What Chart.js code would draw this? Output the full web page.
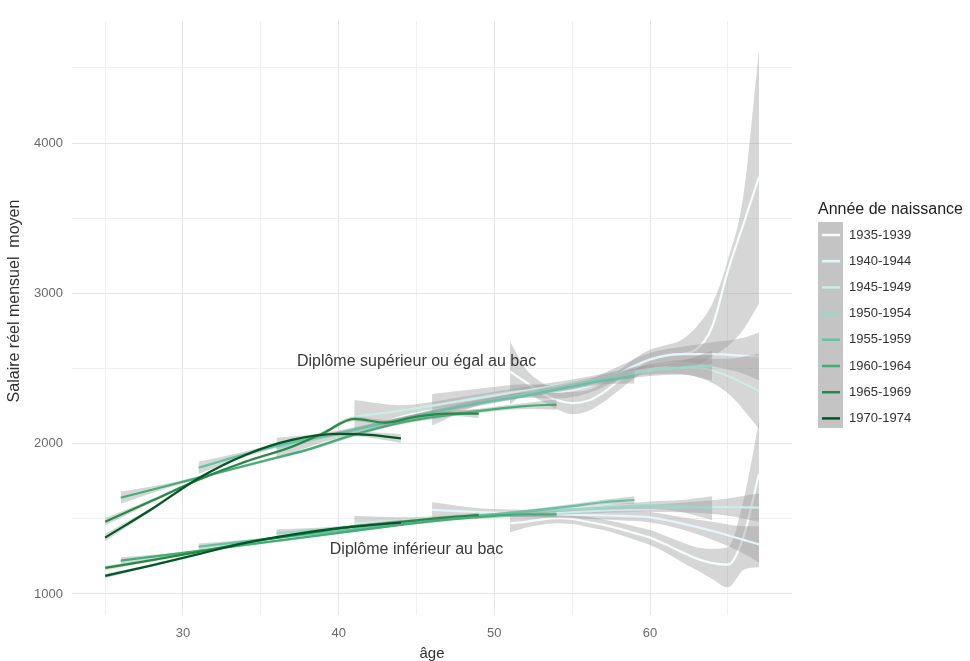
<!DOCTYPE html>
<html>
<head>
<meta charset="utf-8">
<script src="https://cdn.jsdelivr.net/npm/chart.js@4.4.0/dist/chart.umd.min.js"></script>
<style>
  html, body { margin: 0; padding: 0; background: #fff; }
</style>
</head>
<body>
<canvas id="salaryChart" width="970" height="661"></canvas>
<script>
// cohorts (legend order) and their line colours
var cohorts = ['1935-1939', '1940-1944', '1945-1949', '1950-1954', '1955-1959', '1960-1964', '1965-1969', '1970-1974'];
var cohortColors = ['#F7FCFD', '#E5F5F9', '#CCECE6', '#99D8C9', '#66C2A4', '#41AE76', '#238B45', '#005824'];

// ages observed for each cohort
var ages1935 = [51, 52, 53, 54, 55, 56, 57, 58, 59, 60, 61, 62, 63, 64, 65, 66, 67];
var ages1940 = [46, 49, 52, 54, 56, 58, 60, 62, 64, 66, 67];
var ages1945 = [41, 44, 47, 50, 53, 56, 59, 61, 63, 65, 67];
var ages1950 = [36, 39, 42, 45, 48, 51, 54, 57, 60, 62, 64];
var ages1955 = [31, 34, 37, 40, 43, 46, 49, 52, 55, 57, 59];
var ages1960 = [26, 29, 32, 35, 38, 41, 44, 47, 50, 52, 54];
var ages1965 = [25, 28, 31, 34, 37, 39, 41, 43, 45, 47, 49];
var ages1970 = [25, 28, 31, 34, 37, 40, 42, 44];

// diplome superieur ou egal au bac : smoothed mean, lower / upper confidence bound
var sup1935   = [2480, 2410, 2340, 2290, 2270, 2285, 2340, 2420, 2500, 2560, 2585, 2595, 2630, 2780, 3150, 3460, 3775];
var supLo1935 = [2260, 2330, 2285, 2230, 2195, 2215, 2275, 2355, 2435, 2495, 2515, 2505, 2520, 2580, 2650, 2760, 2930];
var supHi1935 = [2680, 2500, 2410, 2355, 2345, 2355, 2405, 2485, 2565, 2625, 2655, 2690, 2780, 2930, 3220, 3650, 4620];
var sup1940   = [2250, 2310, 2350, 2345, 2380, 2470, 2560, 2595, 2595, 2585, 2580];
var supLo1940 = [2120, 2255, 2305, 2300, 2335, 2425, 2515, 2545, 2515, 2465, 2420];
var supHi1940 = [2330, 2365, 2395, 2390, 2425, 2515, 2605, 2645, 2675, 2705, 2740];
var sup1945   = [2180, 2220, 2270, 2320, 2370, 2420, 2480, 2505, 2505, 2450, 2350];
var supLo1945 = [2070, 2185, 2245, 2295, 2345, 2395, 2450, 2465, 2445, 2335, 2100];
var supHi1945 = [2290, 2255, 2295, 2345, 2395, 2445, 2510, 2545, 2565, 2565, 2600];
var sup1950   = [1970, 2040, 2110, 2180, 2250, 2310, 2370, 2430, 2485, 2505, 2520];
var supLo1950 = [1900, 2010, 2090, 2160, 2230, 2290, 2350, 2405, 2450, 2460, 2420];
var supHi1950 = [2040, 2070, 2130, 2200, 2270, 2330, 2390, 2455, 2520, 2550, 2620];
var sup1955   = [1840, 1930, 2010, 2070, 2140, 2210, 2270, 2320, 2380, 2420, 2445];
var supLo1955 = [1800, 1912, 1998, 2058, 2128, 2198, 2258, 2305, 2360, 2395, 2400];
var supHi1955 = [1880, 1948, 2022, 2082, 2152, 2222, 2282, 2335, 2400, 2445, 2490];
var sup1960   = [1640, 1720, 1800, 1880, 1960, 2060, 2140, 2190, 2230, 2250, 2260];
var supLo1960 = [1600, 1705, 1790, 1870, 1950, 2048, 2128, 2178, 2215, 2230, 2225];
var supHi1960 = [1680, 1735, 1810, 1890, 1970, 2072, 2152, 2202, 2245, 2270, 2295];
var sup1965   = [1480, 1620, 1760, 1880, 1980, 2070, 2165, 2140, 2180, 2200, 2200];
var supLo1965 = [1455, 1608, 1750, 1870, 1970, 2058, 2150, 2122, 2165, 2185, 2170];
var supHi1965 = [1505, 1632, 1770, 1890, 1990, 2082, 2180, 2158, 2195, 2215, 2230];
var sup1970   = [1375, 1565, 1770, 1925, 2025, 2065, 2058, 2035];
var supLo1970 = [1350, 1553, 1760, 1915, 2015, 2052, 2040, 2005];
var supHi1970 = [1400, 1577, 1780, 1935, 2035, 2078, 2076, 2065];

// diplome inferieur au bac
var inf1935   = [1470, 1480, 1495, 1505, 1500, 1480, 1460, 1435, 1405, 1375, 1330, 1280, 1235, 1205, 1195, 1380, 1800];
var infLo1935 = [1410, 1440, 1460, 1470, 1465, 1445, 1425, 1395, 1360, 1325, 1275, 1215, 1160, 1100, 1045, 1160, 1180];
var infHi1935 = [1530, 1520, 1530, 1540, 1535, 1515, 1495, 1475, 1450, 1425, 1385, 1345, 1310, 1300, 1310, 1620, 2150];
var inf1940   = [1560, 1545, 1535, 1530, 1525, 1520, 1510, 1470, 1420, 1360, 1330];
var infLo1940 = [1510, 1520, 1510, 1505, 1500, 1490, 1475, 1430, 1360, 1270, 1210];
var infHi1940 = [1610, 1570, 1560, 1555, 1550, 1550, 1545, 1510, 1480, 1450, 1450];
var inf1945   = [1470, 1490, 1505, 1520, 1535, 1550, 1565, 1572, 1578, 1578, 1575];
var infLo1945 = [1420, 1470, 1490, 1505, 1520, 1535, 1545, 1545, 1540, 1520, 1480];
var infHi1945 = [1520, 1510, 1520, 1535, 1550, 1565, 1585, 1600, 1615, 1635, 1670];
var inf1950   = [1405, 1430, 1460, 1490, 1515, 1535, 1555, 1575, 1590, 1585, 1570];
var infLo1950 = [1380, 1418, 1450, 1480, 1505, 1525, 1545, 1560, 1565, 1545, 1490];
var infHi1950 = [1430, 1442, 1470, 1500, 1525, 1545, 1565, 1590, 1615, 1625, 1650];
var inf1955   = [1315, 1350, 1385, 1420, 1455, 1490, 1520, 1550, 1585, 1610, 1625];
var infLo1955 = [1295, 1340, 1377, 1412, 1447, 1482, 1512, 1540, 1572, 1593, 1600];
var infHi1955 = [1335, 1360, 1393, 1428, 1463, 1498, 1528, 1560, 1598, 1627, 1650];
var inf1960   = [1222, 1260, 1300, 1340, 1380, 1420, 1460, 1495, 1520, 1530, 1530];
var infLo1960 = [1200, 1250, 1293, 1333, 1373, 1413, 1453, 1487, 1510, 1515, 1510];
var infHi1960 = [1244, 1270, 1307, 1347, 1387, 1427, 1467, 1503, 1530, 1545, 1550];
var inf1965   = [1173, 1225, 1280, 1340, 1390, 1420, 1450, 1470, 1490, 1510, 1525];
var infLo1965 = [1158, 1218, 1274, 1334, 1384, 1413, 1442, 1462, 1482, 1500, 1508];
var infHi1965 = [1188, 1232, 1286, 1346, 1396, 1427, 1458, 1478, 1498, 1520, 1542];
var inf1970   = [1120, 1190, 1265, 1340, 1395, 1438, 1458, 1475];
var infLo1970 = [1105, 1182, 1259, 1334, 1388, 1430, 1448, 1455];
var infHi1970 = [1135, 1198, 1271, 1346, 1402, 1446, 1468, 1495];

// axis ticks and texts
var xTicks = [25, 30, 35, 40, 45, 50, 55, 60, 65];
var yTicks = [1000, 1500, 2000, 2500, 3000, 3500, 4000, 4500];
var groupLabels = ['Diplôme supérieur ou égal au bac', 'Diplôme inférieur au bac'];
var groupLabelAge = [45, 45];
var groupLabelValue = [2543, 1293];

var agesByCohort = [ages1935, ages1940, ages1945, ages1950, ages1955, ages1960, ages1965, ages1970];
var supByCohort = [
  [sup1935, supLo1935, supHi1935], [sup1940, supLo1940, supHi1940],
  [sup1945, supLo1945, supHi1945], [sup1950, supLo1950, supHi1950],
  [sup1955, supLo1955, supHi1955], [sup1960, supLo1960, supHi1960],
  [sup1965, supLo1965, supHi1965], [sup1970, supLo1970, supHi1970]
];
var infByCohort = [
  [inf1935, infLo1935, infHi1935], [inf1940, infLo1940, infHi1940],
  [inf1945, infLo1945, infHi1945], [inf1950, infLo1950, infHi1950],
  [inf1955, infLo1955, infHi1955], [inf1960, infLo1960, infHi1960],
  [inf1965, infLo1965, infHi1965], [inf1970, infLo1970, infHi1970]
];

var FONT = '"Liberation Sans", Arial, sans-serif';
var ribbonFill = 'rgba(153,153,153,0.4)';

function pts(xs, ys) {
  return xs.map(function(x, i) { return {x: x, y: ys[i]}; });
}

// each smooth = lower bound, upper bound filled to it, then the line; drawn group after group like ggplot
var datasets = [];
var total = cohorts.length * 2 * 3;
var seq = 0;
function addSmooth(xs, trio, color) {
  var base = {pointRadius: 0, pointHitRadius: 0, cubicInterpolationMode: 'monotone', borderWidth: 0, fill: false};
  datasets.push(Object.assign({}, base, {data: pts(xs, trio[1]), borderColor: 'rgba(0,0,0,0)', order: total - seq++}));
  datasets.push(Object.assign({}, base, {data: pts(xs, trio[2]), borderColor: 'rgba(0,0,0,0)', fill: '-1', backgroundColor: ribbonFill, order: total - seq++}));
  datasets.push(Object.assign({}, base, {data: pts(xs, trio[0]), borderColor: color, borderWidth: 2.2, order: total - seq++}));
}
for (var i = 0; i < cohorts.length; i++) {
  addSmooth(agesByCohort[i], infByCohort[i], cohortColors[i]);
  addSmooth(agesByCohort[i], supByCohort[i], cohortColors[i]);
}

var decorPlugin = {
  id: 'decor',
  afterDraw: function(chart) {
    var ctx = chart.ctx;
    var xs = chart.scales.x, ys = chart.scales.y;
    ctx.save();
    // group annotations
    ctx.fillStyle = '#3a3a3a';
    ctx.font = '16px ' + FONT;
    ctx.textAlign = 'center';
    ctx.textBaseline = 'middle';
    for (var g = 0; g < groupLabels.length; g++) {
      ctx.fillText(groupLabels[g], xs.getPixelForValue(groupLabelAge[g]), ys.getPixelForValue(groupLabelValue[g]));
    }
    // y axis title
    ctx.save();
    ctx.translate(15, 301);
    ctx.rotate(-Math.PI / 2);
    ctx.fillStyle = '#333';
    ctx.font = '16px ' + FONT;
    ctx.fillText('Salaire réel mensuel  moyen', 0, 0);
    ctx.restore();
    // legend
    var lx = 818, ly = 235, step = 26.2;
    ctx.textAlign = 'left';
    ctx.fillStyle = '#222';
    ctx.font = '16px ' + FONT;
    ctx.fillText('Année de naissance', lx, 210);
    ctx.fillStyle = '#c4c4c4';
    ctx.fillRect(lx, 222, 25, 206);
    ctx.font = '13px ' + FONT;
    for (var k = 0; k < cohorts.length; k++) {
      var yy = ly + k * step;
      ctx.strokeStyle = cohortColors[k];
      ctx.lineWidth = 2.5;
      ctx.beginPath();
      ctx.moveTo(lx + 4, yy);
      ctx.lineTo(lx + 22, yy);
      ctx.stroke();
      ctx.fillStyle = '#333';
      ctx.fillText(cohorts[k], lx + 31, yy);
    }
    ctx.restore();
  }
};

new Chart(document.getElementById('salaryChart').getContext('2d'), {
  type: 'line',
  data: {datasets: datasets},
  options: {
    responsive: false,
    animation: false,
    devicePixelRatio: 1,
    layout: {padding: {left: 0, top: 21, right: 178, bottom: 0}},
    plugins: {legend: {display: false}, tooltip: {enabled: false}},
    scales: {
      x: {
        type: 'linear',
        min: 22.87,
        max: 69.12,
        afterFit: function(scale) { scale.height = 46; },
        afterBuildTicks: function(scale) { scale.ticks = xTicks.map(function(v) { return {value: v}; }); },
        grid: {
          drawTicks: false,
          color: function(c) { return c.tick && c.tick.value % 10 === 0 ? '#e6e6e6' : '#f0f0f0'; },
          lineWidth: 1
        },
        border: {display: false},
        ticks: {
          padding: 11,
          color: '#6b6b6b',
          font: {family: FONT, size: 13},
          maxRotation: 0,
          autoSkip: false,
          callback: function(v) { return v % 10 === 0 ? String(v) : ''; }
        },
        title: {display: true, text: 'âge', color: '#333', font: {family: FONT, size: 15, lineHeight: 1}, padding: {top: 0, bottom: 0}}
      },
      y: {
        min: 860,
        max: 4812,
        afterFit: function(scale) { scale.width = 72; },
        afterBuildTicks: function(scale) { scale.ticks = yTicks.map(function(v) { return {value: v}; }); },
        grid: {
          drawTicks: false,
          color: function(c) { return c.tick && c.tick.value % 1000 === 0 ? '#e6e6e6' : '#f0f0f0'; },
          lineWidth: 1
        },
        border: {display: false},
        ticks: {
          padding: 9,
          color: '#6b6b6b',
          font: {family: FONT, size: 13},
          autoSkip: false,
          callback: function(v) { return v % 1000 === 0 ? String(v) : ''; }
        }
      }
    }
  },
  plugins: [decorPlugin]
});
</script>
</body>
</html>
